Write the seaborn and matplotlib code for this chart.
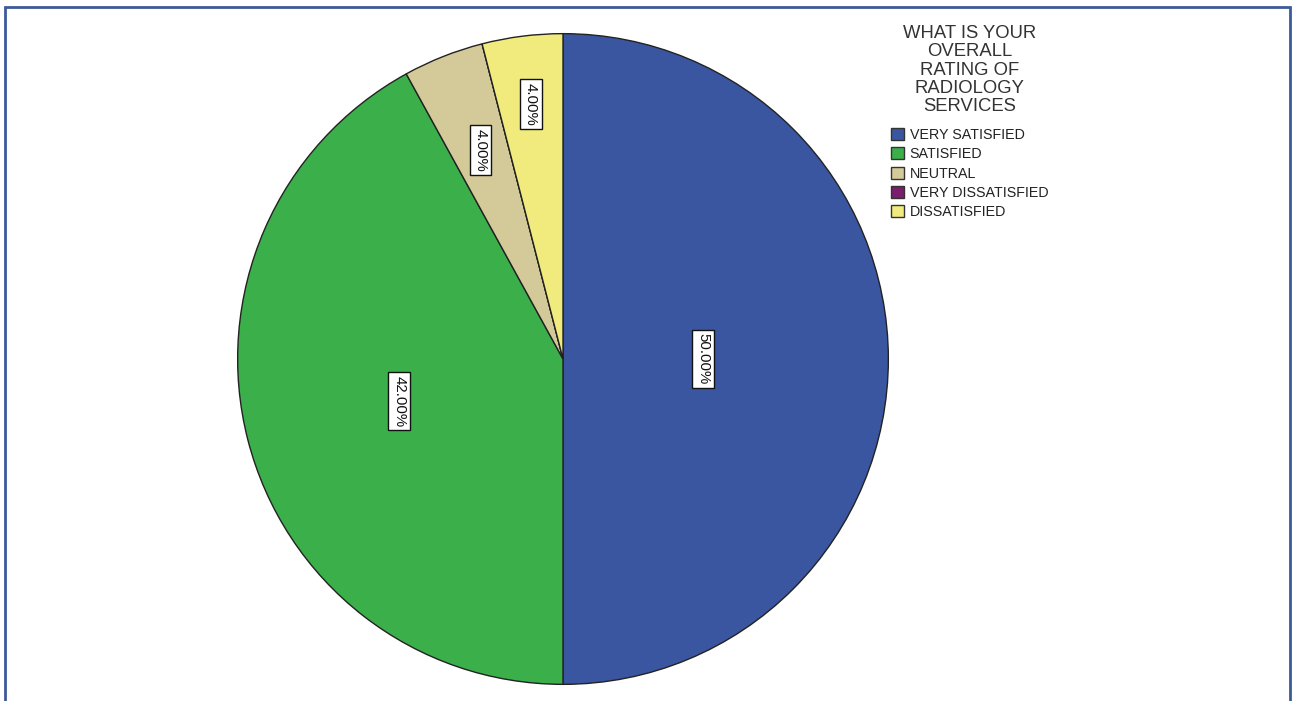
import numpy as np
import matplotlib
matplotlib.use("Agg")
import matplotlib.pyplot as plt
from matplotlib.patches import Rectangle, Patch
import seaborn as sns

categories = ["VERY SATISFIED", "SATISFIED", "NEUTRAL", "VERY DISSATISFIED", "DISSATISFIED"]
values = [50.0, 42.0, 4.0, 0.0, 4.0]
colors = ["#3b56a0", "#3aaf4a", "#d4c998", "#7a1f6e", "#f0eb7c"]
label_dist = [0.43, 0.52, 0.69, 0.0, 0.79]
legend_title = "WHAT IS YOUR\nOVERALL\nRATING OF\nRADIOLOGY\nSERVICES"

sns.set_theme(style="white")
plt.rcParams['font.family'] = ['Liberation Sans', 'DejaVu Sans']

W, H = 1298, 701
fig = plt.figure(figsize=(W / 100, H / 100), dpi=100)
fig.patch.set_facecolor("white")

cx, cy, r = 563, 359, 326
ax = fig.add_axes([(cx - r) / W, (H - cy - r) / H, 2 * r / W, 2 * r / H])
ax.set_aspect("equal")
wedges, _ = ax.pie(values, colors=colors, startangle=90, counterclock=False,
                   wedgeprops=dict(edgecolor="#222222", linewidth=1.0), radius=1.0)
ax.set_xlim(-1.002, 1.002)
ax.set_ylim(-1.002, 1.002)
ax.axis("off")

for w, v, d in zip(wedges, values, label_dist):
    if v <= 0:
        continue
    ang = np.deg2rad((w.theta1 + w.theta2) / 2)
    ax.text(d * np.cos(ang), d * np.sin(ang), f"{v:.2f}%", rotation=270,
            ha="center", va="center", fontsize=10.8, color="#111111",
            bbox=dict(boxstyle="square,pad=0.25", facecolor="white", edgecolor="#111111", linewidth=1.0))

fig.text(969.5 / W, 1 - 25 / H, legend_title, ha="center", va="top", multialignment="center",
         fontsize=13.3, color="#333333", linespacing=1.1)

handles = [Patch(facecolor=c, edgecolor="#333333", linewidth=1.0) for c in colors]
leg = fig.legend(handles, categories, loc="upper left",
                 bbox_to_anchor=(881 / W, 1 - 118 / H), frameon=False,
                 fontsize=10.3, handlelength=0.9, handleheight=0.9,
                 handletextpad=0.4, labelspacing=0.37, borderpad=0.2)
for t in leg.get_texts():
    t.set_color("#222222")

fig.patches.append(Rectangle((5 / W, -0.05), 1285 / W, 1 - 7 / H + 0.05, transform=fig.transFigure,
                             fill=False, edgecolor="#3d5a99", linewidth=2, zorder=10))

fig.savefig("out.png", dpi=100, facecolor="white")
